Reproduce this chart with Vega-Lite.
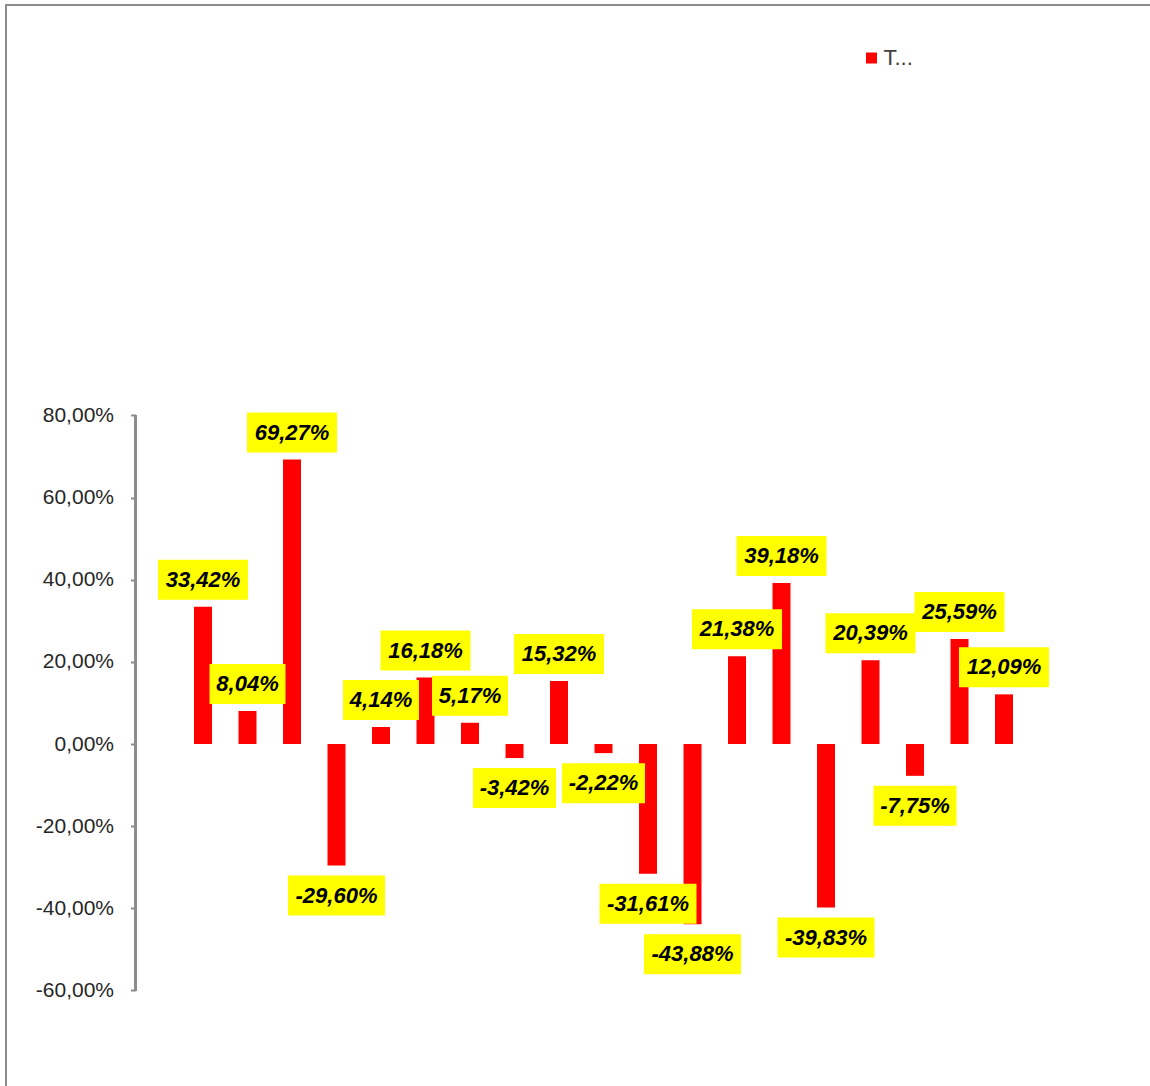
{
  "$schema": "https://vega.github.io/schema/vega-lite/v6.json",
  "width": 1164,
  "height": 1095,
  "autosize": {"type": "none"},
  "padding": {"left": 6, "top": 5, "right": -20, "bottom": -14},
  "background": "#ffffff",
  "config": {
    "locale": {
      "number": {"decimal": ",", "thousands": ".", "grouping": [3], "currency": ["", " €"], "minus": "-"}
    },
    "view": {"stroke": "#8c8c8c", "strokeWidth": 2},
    "font": "Liberation Sans"
  },
  "data": {
    "values": [
      {"n": 1, "v": 0.3342, "s": "T..."},
      {"n": 2, "v": 0.0804, "s": "T..."},
      {"n": 3, "v": 0.6927, "s": "T..."},
      {"n": 4, "v": -0.2960, "s": "T..."},
      {"n": 5, "v": 0.0414, "s": "T..."},
      {"n": 6, "v": 0.1618, "s": "T..."},
      {"n": 7, "v": 0.0517, "s": "T..."},
      {"n": 8, "v": -0.0342, "s": "T..."},
      {"n": 9, "v": 0.1532, "s": "T..."},
      {"n": 10, "v": -0.0222, "s": "T..."},
      {"n": 11, "v": -0.3161, "s": "T..."},
      {"n": 12, "v": -0.4388, "s": "T..."},
      {"n": 13, "v": 0.2138, "s": "T..."},
      {"n": 14, "v": 0.3918, "s": "T..."},
      {"n": 15, "v": -0.3983, "s": "T..."},
      {"n": 16, "v": 0.2039, "s": "T..."},
      {"n": 17, "v": -0.0775, "s": "T..."},
      {"n": 18, "v": 0.2559, "s": "T..."},
      {"n": 19, "v": 0.1209, "s": "T..."}
    ]
  },
  "transform": [
    {"calculate": "(abs(datum.v) >= 0.1 ? 2 : 0) + (datum.v < 0 ? 1 : 0)", "as": "wide"}
  ],
  "encoding": {
    "x": {
      "field": "n",
      "type": "quantitative",
      "scale": {"domain": [-3.427, 22.73], "nice": false, "zero": false, "padding": 0},
      "axis": null
    },
    "y": {
      "field": "v",
      "type": "quantitative",
      "scale": {"domain": [-0.8668, 1.7994], "nice": false, "zero": false, "padding": 0},
      "axis": {
        "title": null,
        "values": [-0.6, -0.4, -0.2, 0, 0.2, 0.4, 0.6, 0.8],
        "format": ".2%",
        "domain": false,
        "grid": false,
        "offset": -129.5,
        "tickSize": 5,
        "tickWidth": 2,
        "tickColor": "#8c8c8c",
        "labelPadding": 17,
        "labelFont": "Liberation Sans",
        "labelFontSize": 21,
        "labelColor": "#262626"
      }
    }
  },
  "layer": [
    {
      "mark": {"type": "rule", "color": "#8c8c8c", "strokeWidth": 2},
      "encoding": {
        "x": {"datum": -0.517, "type": "quantitative"},
        "y": {"datum": -0.6, "type": "quantitative"},
        "y2": {"datum": 0.8}
      }
    },
    {
      "mark": {"type": "bar", "orient": "vertical", "width": 18},
      "encoding": {
        "y2": {"datum": 0},
        "color": {
          "field": "s",
          "type": "nominal",
          "scale": {"domain": ["T..."], "range": ["#ff0000"]},
          "legend": {
            "title": null,
            "orient": "none",
            "legendX": 854.5,
            "legendY": 42,
            "padding": 0,
            "symbolType": "square",
            "symbolSize": 121,
            "symbolStrokeWidth": 0,
            "labelOffset": 1,
            "labelFont": "Liberation Sans",
            "labelFontSize": 22,
            "labelColor": "#404040"
          }
        }
      }
    },
    {
      "transform": [{"filter": "datum.v >= 0"}],
      "mark": {"type": "tick", "orient": "horizontal", "thickness": 40, "color": "#ffff00", "opacity": 1, "yOffset": -27},
      "encoding": {
        "size": {"field": "wide", "type": "quantitative", "scale": {"domain": [0, 3], "range": [76, 97]}, "legend": null}
      }
    },
    {
      "transform": [{"filter": "datum.v < 0"}],
      "mark": {"type": "tick", "orient": "horizontal", "thickness": 40, "color": "#ffff00", "opacity": 1, "yOffset": 30},
      "encoding": {
        "size": {"field": "wide", "type": "quantitative", "scale": {"domain": [0, 3], "range": [76, 97]}, "legend": null}
      }
    },
    {
      "transform": [{"filter": "datum.v >= 0"}],
      "mark": {"type": "text", "font": "Liberation Sans", "fontSize": 22, "fontWeight": "bold", "fontStyle": "italic", "color": "#000000", "baseline": "middle", "align": "center", "yOffset": -27},
      "encoding": {
        "text": {"field": "v", "type": "quantitative", "format": ".2%"}
      }
    },
    {
      "transform": [{"filter": "datum.v < 0"}],
      "mark": {"type": "text", "font": "Liberation Sans", "fontSize": 22, "fontWeight": "bold", "fontStyle": "italic", "color": "#000000", "baseline": "middle", "align": "center", "yOffset": 30},
      "encoding": {
        "text": {"field": "v", "type": "quantitative", "format": ".2%"}
      }
    }
  ]
}
